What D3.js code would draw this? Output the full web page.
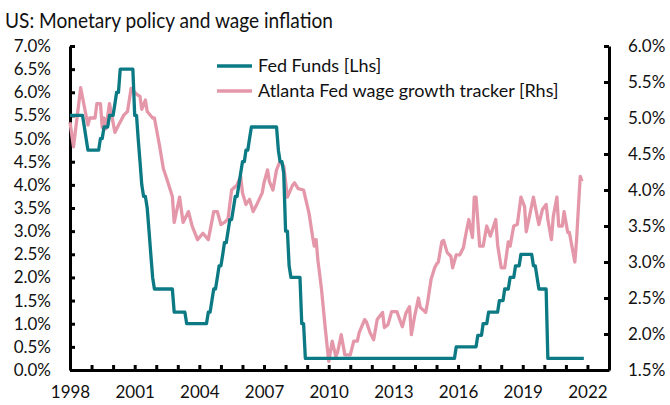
<!DOCTYPE html>
<html>
<head>
<meta charset="utf-8">
<script src="https://cdn.jsdelivr.net/npm/d3@7"></script>
<style>
  body { margin: 0; background: #fff; }
  text { font-family: Lato, "Open Sans", sans-serif; fill: #111; }
</style>
</head>
<body>
<div id="chart"></div>
<script>
// Fed funds target (upper bound), monthly from Jan 1998
const fedStart = [1998, 0]
const fedFunds = [
  5.5, 5.5, 5.5, 5.5, 5.5, 5.5, 5.5, 5.5, 5.25, 5.0, 4.75, 4.75,       // 1998
  4.75, 4.75, 4.75, 4.75, 4.75, 5.0, 5.0, 5.25, 5.25, 5.25, 5.5, 5.5,  // 1999
  5.5, 5.75, 6.0, 6.0, 6.5, 6.5, 6.5, 6.5, 6.5, 6.5, 6.5, 6.5,         // 2000
  5.5, 5.5, 5.0, 4.5, 4.0, 3.75, 3.75, 3.5, 3.0, 2.5, 2.0, 1.75,       // 2001
  1.75, 1.75, 1.75, 1.75, 1.75, 1.75, 1.75, 1.75, 1.75, 1.75, 1.25, 1.25, // 2002
  1.25, 1.25, 1.25, 1.25, 1.25, 1.0, 1.0, 1.0, 1.0, 1.0, 1.0, 1.0,     // 2003
  1.0, 1.0, 1.0, 1.0, 1.0, 1.25, 1.25, 1.5, 1.75, 1.75, 2.0, 2.25,     // 2004
  2.25, 2.5, 2.75, 2.75, 3.0, 3.25, 3.25, 3.5, 3.75, 3.75, 4.0, 4.25,  // 2005
  4.5, 4.5, 4.75, 4.75, 5.0, 5.25, 5.25, 5.25, 5.25, 5.25, 5.25, 5.25, // 2006
  5.25, 5.25, 5.25, 5.25, 5.25, 5.25, 5.25, 5.25, 4.75, 4.5, 4.5, 4.25, // 2007
  3.0, 3.0, 2.25, 2.0, 2.0, 2.0, 2.0, 2.0, 2.0, 1.0, 1.0, 0.25,        // 2008
  0.25, 0.25, 0.25, 0.25, 0.25, 0.25, 0.25, 0.25, 0.25, 0.25, 0.25, 0.25, // 2009
  0.25, 0.25, 0.25, 0.25, 0.25, 0.25, 0.25, 0.25, 0.25, 0.25, 0.25, 0.25, // 2010
  0.25, 0.25, 0.25, 0.25, 0.25, 0.25, 0.25, 0.25, 0.25, 0.25, 0.25, 0.25, // 2011
  0.25, 0.25, 0.25, 0.25, 0.25, 0.25, 0.25, 0.25, 0.25, 0.25, 0.25, 0.25, // 2012
  0.25, 0.25, 0.25, 0.25, 0.25, 0.25, 0.25, 0.25, 0.25, 0.25, 0.25, 0.25, // 2013
  0.25, 0.25, 0.25, 0.25, 0.25, 0.25, 0.25, 0.25, 0.25, 0.25, 0.25, 0.25, // 2014
  0.25, 0.25, 0.25, 0.25, 0.25, 0.25, 0.25, 0.25, 0.25, 0.25, 0.25, 0.5,  // 2015
  0.5, 0.5, 0.5, 0.5, 0.5, 0.5, 0.5, 0.5, 0.5, 0.5, 0.5, 0.75,         // 2016
  0.75, 0.75, 1.0, 1.0, 1.0, 1.25, 1.25, 1.25, 1.25, 1.25, 1.25, 1.5,  // 2017
  1.5, 1.5, 1.75, 1.75, 1.75, 2.0, 2.0, 2.0, 2.25, 2.25, 2.25, 2.5,    // 2018
  2.5, 2.5, 2.5, 2.5, 2.5, 2.5, 2.25, 2.25, 2.0, 1.75, 1.75, 1.75,     // 2019
  1.75, 1.75, 0.25, 0.25, 0.25, 0.25, 0.25, 0.25, 0.25, 0.25, 0.25, 0.25, // 2020
  0.25, 0.25, 0.25, 0.25, 0.25, 0.25, 0.25, 0.25, 0.25, 0.25, 0.25     // 2021
]

// Atlanta Fed wage growth tracker
const wageTracker = [
  ["1998-01", 4.94], ["1998-03", 4.60], ["1998-07", 5.42], ["1998-11", 4.90], ["1998-12", 5.00],
  ["1999-03", 5.00], ["1999-04", 5.20], ["1999-06", 5.20], ["1999-07", 4.87], ["1999-08", 5.00],
  ["1999-09", 4.85], ["1999-11", 5.20], ["2000-02", 4.80], ["2000-04", 4.90], ["2000-07", 5.04],
  ["2000-09", 5.09], ["2000-11", 5.41], ["2001-02", 5.33], ["2001-04", 5.30], ["2001-05", 5.12],
  ["2001-07", 5.25], ["2001-08", 5.09], ["2001-11", 5.00], ["2001-12", 5.00], ["2002-03", 4.60],
  ["2002-05", 4.30], ["2002-07", 4.15], ["2002-10", 3.91], ["2002-11", 3.55], ["2003-02", 3.90],
  ["2003-04", 3.55], ["2003-07", 3.70], ["2003-09", 3.50], ["2003-12", 3.31], ["2004-03", 3.40],
  ["2004-06", 3.31], ["2004-09", 3.70], ["2004-11", 3.70], ["2005-01", 3.52], ["2005-03", 3.55],
  ["2005-05", 3.60], ["2005-07", 4.00], ["2005-10", 4.07], ["2005-12", 4.19], ["2006-01", 3.96],
  ["2006-03", 3.80], ["2006-05", 3.87], ["2006-07", 3.70], ["2006-09", 3.80], ["2006-12", 3.96],
  ["2007-01", 4.10], ["2007-03", 4.28], ["2007-04", 4.12], ["2007-06", 4.00], ["2007-08", 4.28],
  ["2007-10", 4.40], ["2007-12", 4.33], ["2008-02", 3.90], ["2008-05", 4.07], ["2008-06", 4.10],
  ["2008-08", 4.02], ["2008-11", 4.00], ["2009-02", 3.68], ["2009-04", 3.36], ["2009-05", 3.22],
  ["2009-06", 3.31], ["2009-07", 3.03], ["2009-09", 2.62], ["2009-11", 2.10], ["2010-01", 1.62],
  ["2010-03", 1.90], ["2010-05", 1.69], ["2010-06", 1.75], ["2010-08", 1.99], ["2010-10", 1.71],
  ["2011-01", 1.71], ["2011-03", 1.90], ["2011-05", 1.90], ["2011-06", 2.02], ["2011-09", 2.20],
  ["2011-10", 2.17], ["2011-12", 2.02], ["2012-02", 1.92], ["2012-04", 2.20], ["2012-07", 2.30],
  ["2012-08", 2.09], ["2012-10", 2.13], ["2012-12", 2.31], ["2013-03", 2.31], ["2013-05", 2.17],
  ["2013-06", 2.10], ["2013-08", 2.29], ["2013-10", 2.38], ["2013-11", 1.99], ["2014-01", 2.27],
  ["2014-03", 2.50], ["2014-04", 2.37], ["2014-07", 2.30], ["2014-08", 2.43], ["2014-10", 2.76],
  ["2014-12", 2.92], ["2015-01", 2.97], ["2015-02", 3.00], ["2015-04", 3.28], ["2015-05", 3.30],
  ["2015-07", 3.13], ["2015-09", 3.08], ["2015-10", 2.92], ["2015-12", 3.10], ["2016-02", 3.10],
  ["2016-04", 3.20], ["2016-05", 3.34], ["2016-07", 3.59], ["2016-09", 3.34], ["2016-10", 3.90],
  ["2016-11", 3.90], ["2017-01", 3.22], ["2017-03", 3.22], ["2017-05", 3.50], ["2017-07", 3.36],
  ["2017-10", 3.59], ["2017-11", 3.24], ["2018-01", 2.92], ["2018-03", 2.92], ["2018-05", 3.28],
  ["2018-06", 3.22], ["2018-08", 3.50], ["2018-10", 3.52], ["2018-12", 3.90], ["2019-02", 3.77],
  ["2019-03", 3.42], ["2019-05", 3.66], ["2019-07", 3.90], ["2019-08", 3.77], ["2019-10", 3.52],
  ["2019-12", 3.73], ["2020-02", 3.80], ["2020-03", 3.59], ["2020-05", 3.31], ["2020-06", 3.63],
  ["2020-08", 3.90], ["2020-09", 3.50], ["2020-11", 3.50], ["2020-12", 3.70], ["2021-02", 3.41],
  ["2021-03", 3.41], ["2021-04", 3.27], ["2021-06", 3.00], ["2021-07", 3.31], ["2021-08", 3.76],
  ["2021-09", 4.19], ["2021-10", 4.12]
]

const leftTicks = [0, 0.5, 1, 1.5, 2, 2.5, 3, 3.5, 4, 4.5, 5, 5.5, 6, 6.5, 7]
const rightTicks = [1.5, 2, 2.5, 3, 3.5, 4, 4.5, 5, 5.5, 6]
const yearLabels = [1998, 2001, 2004, 2007, 2010, 2013, 2016, 2019, 2022]

const title = "US: Monetary policy and wage inflation"
const legendItems = [
  { name: "Fed Funds [Lhs]", color: "#0b7a84" },
  { name: "Atlanta Fed wage growth tracker [Rhs]", color: "#e597aa" }
]

const width = 670, height = 405
const margin = { top: 46, right: 61, bottom: 35, left: 70 }

const svg = d3.select("#chart").append("svg")
    .attr("width", width)
    .attr("height", height)

const parseMonth = d3.timeParse("%Y-%m")

const x = d3.scaleTime()
    .domain([new Date(1998, 0, 1), new Date(2023, 0, 1)])
    .range([margin.left, width - margin.right])
const yL = d3.scaleLinear().domain([0, 7]).range([height - margin.bottom, margin.top])
const yR = d3.scaleLinear().domain([1.5, 6]).range([height - margin.bottom, margin.top])

const fedData = fedFunds.map((v, i) => ({ date: new Date(fedStart[0], fedStart[1] + i, 1), value: v }))
const wageData = wageTracker.map(d => ({ date: parseMonth(d[0]), value: d[1] }))

// title
svg.append("text")
    .attr("x", 5)
    .attr("y", 28)
    .style("font-size", "21px")
    .attr("textLength", 328)
    .attr("lengthAdjust", "spacingAndGlyphs")
    .text(title)

// axes
const pct = d => d.toFixed(1) + "%"

function styleAxis(g) {
    g.select(".domain").attr("stroke", "#000").attr("stroke-width", 3)
    g.selectAll(".tick line").attr("stroke", "#000").attr("stroke-width", 3)
    g.selectAll(".tick text").style("font-size", "17px").attr("fill", "#111")
}

svg.append("g")
    .attr("transform", "translate(" + margin.left + ",0)")
    .call(d3.axisLeft(yL).tickValues(leftTicks).tickFormat(pct).tickSizeInner(-5).tickSizeOuter(0).tickPadding(19))
    .call(styleAxis)

svg.append("g")
    .attr("transform", "translate(" + (width - margin.right) + ",0)")
    .call(d3.axisRight(yR).tickValues(rightTicks).tickFormat(pct).tickSizeInner(-5).tickSizeOuter(0).tickPadding(19))
    .call(styleAxis)

svg.append("g")
    .attr("transform", "translate(0," + (height - margin.bottom) + ")")
    .call(d3.axisBottom(x)
        .ticks(d3.timeYear.every(1))
        .tickFormat(d => yearLabels.includes(d.getFullYear()) ? d.getFullYear() : "")
        .tickSizeInner(-5).tickSizeOuter(0).tickPadding(16))
    .call(styleAxis)

// lines
const fedLine = d3.line().x(d => x(d.date)).y(d => yL(d.value))
const wageLine = d3.line().x(d => x(d.date)).y(d => yR(d.value))

svg.append("path")
    .datum(wageData)
    .attr("fill", "none")
    .attr("stroke", legendItems[1].color)
    .attr("stroke-width", 3.3)
    .attr("stroke-linejoin", "round")
    .attr("d", wageLine)

svg.append("path")
    .datum(fedData)
    .attr("fill", "none")
    .attr("stroke", legendItems[0].color)
    .attr("stroke-width", 3.3)
    .attr("stroke-linejoin", "round")
    .attr("d", fedLine)

// legend
const legend = svg.append("g").attr("transform", "translate(217,66)")
const item = legend.selectAll("g")
    .data(legendItems)
    .enter()
    .append("g")
    .attr("transform", (d, i) => "translate(0," + i * 25 + ")")

item.append("line")
    .attr("x1", 0).attr("x2", 35)
    .attr("stroke", d => d.color)
    .attr("stroke-width", 3.3)

item.append("text")
    .attr("x", 41)
    .attr("dy", "0.35em")
    .style("font-size", "18px")
    .text(d => d.name)
</script>
</body>
</html>
